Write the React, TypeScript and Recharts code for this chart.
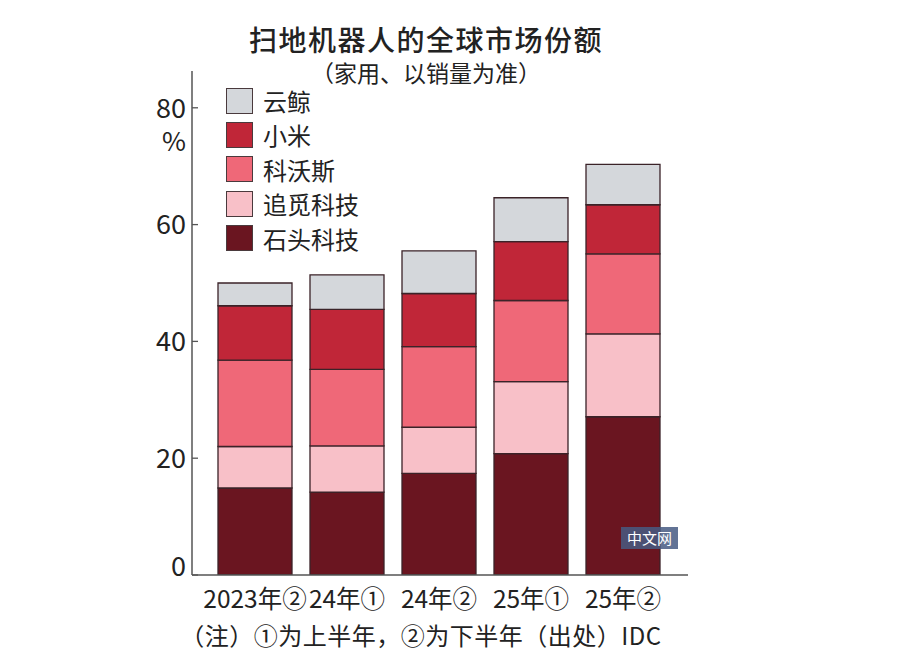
import { Bar, BarChart, XAxis, YAxis } from 'recharts'

// half-year periods, ① = first half, ② = second half
const periods = ['2023年②', '24年①', '24年②', '25年①', '25年②']

// shares in % (bottom to top)
const roborock = [14.9, 14.2, 17.4, 20.8, 27.1] // 石头科技
const dreame = [7.1, 7.9, 7.9, 12.3, 14.2] // 追觅科技
const ecovacs = [14.8, 13.1, 13.8, 13.9, 13.7] // 科沃斯
const xiaomi = [9.3, 10.3, 9.1, 10.1, 8.4] // 小米
const narwal = [3.9, 5.9, 7.3, 7.5, 6.9] // 云鲸

const yTicks = [0, 20, 40, 60, 80]

const SERIES = [
  { key: 'roborock', name: '石头科技', color: '#6a1520', values: roborock },
  { key: 'dreame', name: '追觅科技', color: '#f8c0c8', values: dreame },
  { key: 'ecovacs', name: '科沃斯', color: '#ef6878', values: ecovacs },
  { key: 'xiaomi', name: '小米', color: '#c02638', values: xiaomi },
  { key: 'narwal', name: '云鲸', color: '#d4d7db', values: narwal },
]

const data = periods.map((period, i) => {
  const row: Record<string, string | number> = { period }
  SERIES.forEach((s) => {
    row[s.key] = s.values[i]
  })
  return row
})

const CJK = "'Noto Sans CJK SC', sans-serif"
const NUM = "'Liberation Sans Narrow', 'Noto Sans CJK SC', sans-serif"
const INK = '#222'
const AXIS = '#555'

function YTick(props: any) {
  const { x, y, payload } = props
  const lift = payload.value === 0 ? -9 : 0
  return (
    <g>
      <line x1={x} x2={x + 6} y1={y} y2={y} stroke={AXIS} strokeWidth={1.3} />
      <text
        x={x - 6}
        y={y + lift}
        dy="0.36em"
        textAnchor="end"
        fontFamily={NUM}
        fontSize={27}
        fill={INK}
      >
        {payload.value}
      </text>
      {payload.value === 80 && (
        <text x={x - 18} y={y + 34} dy="0.36em" textAnchor="middle" fontFamily={NUM} fontSize={26} fill={INK}>
          %
        </text>
      )}
    </g>
  )
}

function XTick(props: any) {
  const { x, y, payload } = props
  return (
    <text x={x} y={y + 33} textAnchor="middle" fontFamily={NUM} fontSize={24.5} fill={INK}>
      {payload.value}
    </text>
  )
}

export default function App() {
  const legendRows = [...SERIES].reverse()
  return (
    <div
      style={{
        position: 'fixed',
        left: 0,
        top: 0,
        width: 911,
        height: 666,
        background: '#fff',
        fontFamily: CJK,
        color: INK,
      }}
    >
      <div
        style={{
          position: 'absolute',
          left: 0,
          width: 852,
          top: 24,
          textAlign: 'center',
          fontSize: 28,
          letterSpacing: 1.5,
          fontWeight: 500,
          lineHeight: '30px',
        }}
      >
        扫地机器人的全球市场份额
      </div>
      <div
        style={{
          position: 'absolute',
          left: 0,
          width: 852,
          top: 59,
          textAlign: 'center',
          fontSize: 23,
          lineHeight: '26px',
        }}
      >
        （家用、以销量为准）
      </div>

      <div style={{ position: 'absolute', left: 0, top: 0 }}>
        <BarChart
          width={911}
          height={666}
          data={data}
          margin={{ top: 71, right: 223, bottom: 61, left: 0 }}
          barSize={74}
        >
          <XAxis
            dataKey="period"
            height={30}
            tickLine={false}
            tickSize={0}
            tickMargin={0}
            stroke={AXIS}
            strokeWidth={1.5}
            padding={{ left: 17, right: 19 }}
            tick={<XTick />}
            interval={0}
          />
          <YAxis
            width={192}
            domain={[0, 86.3]}
            ticks={yTicks}
            tickLine={false}
            tickSize={0}
            tickMargin={0}
            stroke={AXIS}
            strokeWidth={1.5}
            tick={<YTick />}
            allowDataOverflow
          />
          {SERIES.map((s) => (
            <Bar
              key={s.key}
              dataKey={s.key}
              name={s.name}
              stackId="share"
              fill={s.color}
              stroke="#3b2328"
              strokeWidth={1.3}
              isAnimationActive={false}
            />
          ))}
        </BarChart>
      </div>

      {legendRows.map((s, i) => (
        <div
          key={s.key}
          style={{
            position: 'absolute',
            left: 226,
            top: 87 + i * 34.4,
            height: 27,
            display: 'flex',
            alignItems: 'center',
          }}
        >
          <div
            style={{
              width: 25,
              height: 24,
              background: s.color,
              border: '1.5px solid #4a3a3d',
            }}
          />
          <span style={{ marginLeft: 10, fontSize: 24, lineHeight: '27px' }}>{s.name}</span>
        </div>
      ))}

      <div
        style={{
          position: 'absolute',
          left: 621,
          top: 527,
          width: 57,
          height: 22,
          background: 'rgba(70, 90, 130, 0.85)',
          color: '#fff',
          fontSize: 15,
          lineHeight: '22px',
          textAlign: 'center',
        }}
      >
        中文网
      </div>

      <div
        style={{
          position: 'absolute',
          left: 0,
          width: 842,
          top: 619,
          textAlign: 'center',
          fontSize: 24,
          letterSpacing: 0.5,
          lineHeight: '32px',
        }}
      >
        （注）①为上半年，②为下半年（出处）<span style={{ fontFamily: NUM }}>IDC</span>
      </div>
    </div>
  )
}
